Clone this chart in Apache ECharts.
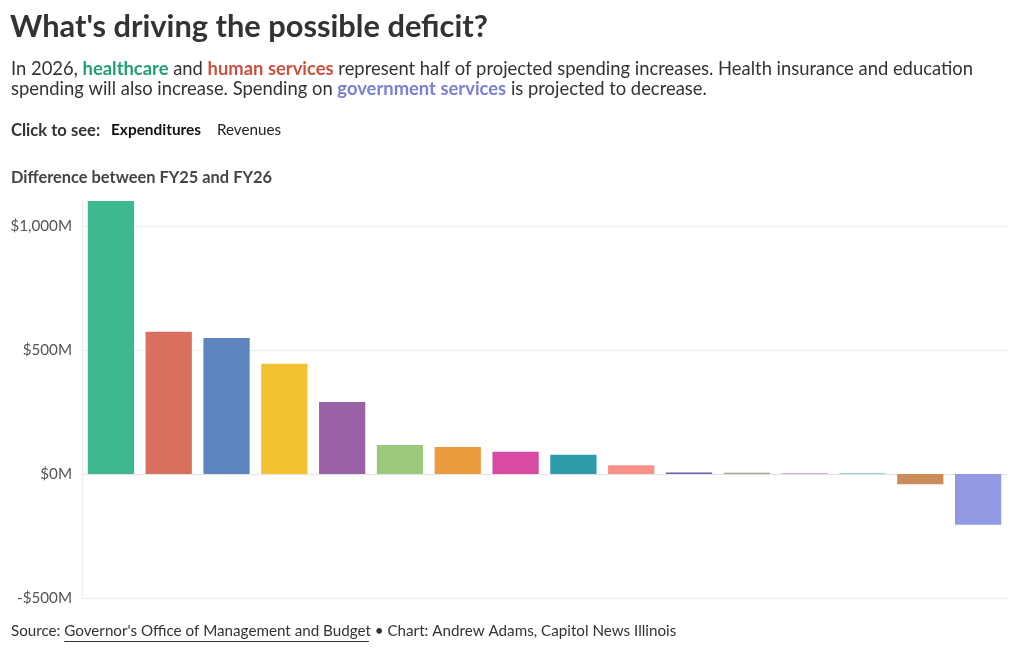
<!DOCTYPE html>
<html><head><meta charset="utf-8">
<script src="https://cdn.jsdelivr.net/npm/echarts@6/dist/echarts.min.js"></script>
<style>html,body{margin:0;padding:0;background:#fff}#c{width:1020px;height:650px}</style>
</head><body><div id="c"></div>
<script>
const categories = ['Healthcare','Human services','Health insurance','Education','Public safety','Debt service','Transportation','Pensions','Environment','Economic development','Capital','Legislative','Judicial','Other','Statutory transfers','Government services'];
const values = [1100, 573, 548, 444, 290, 117, 109, 89, 77, 35, 6, 5, 4, 3, -42, -205];
const barColors = ['#3db890','#d87060','#5e86be','#f2c231','#9961a6','#9bc87a','#ec9b3e','#d94aa3','#2e9ba8','#f7918a','#6a5fb0','#a9a48a','#e6a8e0','#7ac7d0','#c98c5a','#9199e4'];
const yTicks = [-500, 0, 500, 1000];

const FONT = 'Lato';
const chart = echarts.init(document.getElementById('c'));

function fmt(v){
  if (!yTicks.includes(v)) return '';
  const a = Math.abs(v).toLocaleString('en-US');
  return (v < 0 ? '-$' : '$') + a + 'M';
}

const mc = document.createElement('canvas').getContext('2d');
function tw(t, font){ mc.font = font; return mc.measureText(t).width; }
const fFont = '15.2px ' + FONT;
const s1 = 'Source: ', s2 = "Governor's Office of Management and Budget", s3 = ' • Chart: Andrew Adams, Capitol News Illinois';
const x1 = 11, x2 = x1 + tw(s1, fFont), x3 = x2 + tw(s2, fFont);

const SUB = 18.4;
const rs = (c, w) => ({fontFamily: FONT, fontSize: SUB, lineHeight: 20, color: c, fontWeight: w});

chart.setOption({
  animation: false,
  title: [
    {text: "What's driving the possible deficit?", left: 10, top: 12, padding: 0,
     textStyle: {fontFamily: FONT, fontSize: 30.8, fontWeight: 700, color: '#333'}},
    {text: '{n|In 2026, }{g|healthcare}{n| and }{r|human services}{n| represent half of projected spending increases. Health insurance and education}\n{n|spending will also increase. Spending on }{b|government services}{n| is projected to decrease.}',
     left: 11, top: 59, padding: 0,
     textStyle: {fontFamily: FONT, fontSize: SUB, lineHeight: 20, color: '#333', fontWeight: 400,
       rich: {n: rs('#333', 400), g: rs('#1f9e78', 700), r: rs('#c9523e', 700), b: rs('#7a7fd6', 700)}}},
    {text: 'Click to see:', left: 11, top: 122, padding: 0, textStyle: {fontFamily: FONT, fontSize: 16.6, fontWeight: 700, color: '#333'}},
    {text: 'Expenditures', left: 111, top: 123, padding: 0, textStyle: {fontFamily: FONT, fontSize: 15.4, fontWeight: 700, color: '#111'}},
    {text: 'Revenues', left: 217, top: 123, padding: 0, textStyle: {fontFamily: FONT, fontSize: 15.2, fontWeight: 400, color: '#222'}},
    {text: 'Difference between FY25 and FY26', left: 11, top: 170, padding: 0, textStyle: {fontFamily: FONT, fontSize: 16.4, fontWeight: 700, color: '#444'}}
  ],
  graphic: [
    {type: 'text', left: x1, top: 624, style: {text: s1, font: fFont, fill: '#333'}},
    {type: 'text', left: x2, top: 624, style: {text: s2, font: fFont, fill: '#333'}},
    {type: 'text', left: x3, top: 624, style: {text: s3, font: fFont, fill: '#333'}},
    {type: 'line', shape: {x1: x2, y1: 641.5, x2: x3 - 2, y2: 641.5}, style: {stroke: '#333', lineWidth: 1}}
  ],
  grid: {left: 82, right: 13, top: 201, bottom: 52, containLabel: false},
  xAxis: {
    type: 'category', data: categories,
    axisLine: {show: true, onZero: true, lineStyle: {color: '#e3e3e3'}},
    axisTick: {show: false}, axisLabel: {show: false}, splitLine: {show: false}
  },
  yAxis: {
    type: 'value', min: -500, max: 1100, interval: 500,
    axisLine: {show: true, lineStyle: {color: '#ececec'}},
    axisTick: {show: false},
    axisLabel: {formatter: fmt, fontFamily: FONT, fontSize: 15.2, color: '#555', margin: 10},
    splitLine: {show: true, lineStyle: {color: ['#ececec','#ececec','#ececec','#ececec','rgba(0,0,0,0)']}}
  },
  series: [{
    type: 'bar', barCategoryGap: '20%',
    data: values.map((v, i) => ({value: v, itemStyle: {color: barColors[i]}}))
  }]
});
</script></body></html>
